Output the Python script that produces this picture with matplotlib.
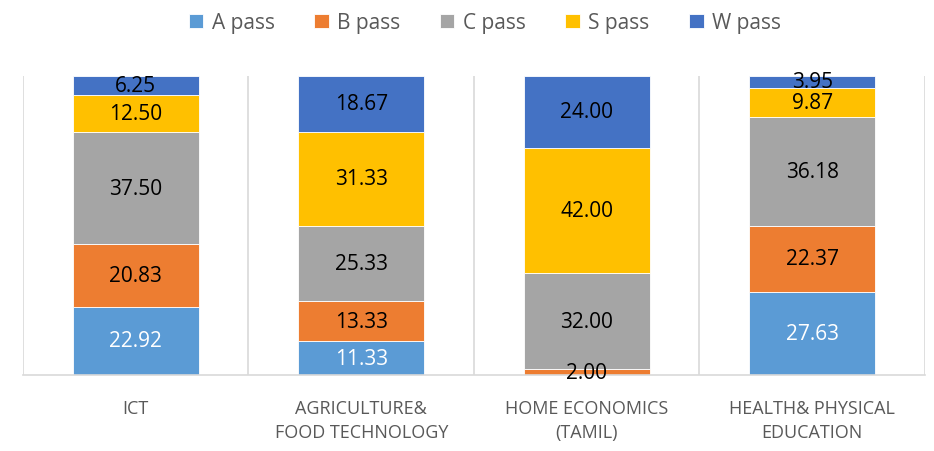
import matplotlib
matplotlib.use("Agg")
import matplotlib.pyplot as plt
import numpy as np

categories = ["ICT", "AGRICULTURE&\nFOOD TECHNOLOGY", "HOME ECONOMICS\n(TAMIL)", "HEALTH& PHYSICAL\nEDUCATION"]
series_names = ["A pass", "B pass", "C pass", "S pass", "W pass"]
a_pass = [22.92, 11.33, 0.00, 27.63]
b_pass = [20.83, 13.33, 2.00, 22.37]
c_pass = [37.50, 25.33, 32.00, 36.18]
s_pass = [12.50, 31.33, 42.00, 9.87]
w_pass = [6.25, 18.67, 24.00, 3.95]
colors = ["#5B9BD5", "#ED7D31", "#A5A5A5", "#FFC000", "#4472C4"]
label_colors = ["white", "black", "black", "black", "black"]

plt.rcParams['font.family'] = ['Open Sans', 'DejaVu Sans']

fig = plt.figure(figsize=(9.34, 4.52), dpi=100)
ax = fig.add_axes([0.0246, 0.168, 0.9657, 0.6616])

x = np.arange(len(categories))
bottom = np.zeros(len(categories))
handles = []
for vals, name, col, lc in zip([a_pass, b_pass, c_pass, s_pass, w_pass], series_names, colors, label_colors):
    v = np.array(vals)
    bars = ax.bar(x, v, width=0.56, bottom=bottom, color=col, edgecolor="white", linewidth=0.6, label=name)
    handles.append(bars)
    for xi, bi, vi in zip(x, bottom, v):
        if vi > 0:
            ax.text(xi, bi + vi / 2, f"{vi:.2f}", ha="center", va="center", color=lc, fontsize=15)
    bottom += v

ax.set_xlim(-0.5, len(categories) - 0.5)
ax.set_ylim(0, 100)
ax.set_yticks([])
ax.set_xticks(x)
ax.set_xticklabels(categories, fontsize=13, color="#595959", linespacing=1.45)
ax.tick_params(axis="x", length=0, pad=17)
for b in np.arange(-0.5, len(categories), 1.0):
    ax.axvline(b, color="#D9D9D9", linewidth=1.2, zorder=0)
for s in ["top", "left", "right"]:
    ax.spines[s].set_visible(False)
ax.spines["bottom"].set_color("#D9D9D9")
ax.spines["bottom"].set_linewidth(1.2)

fig.legend(handles=handles, labels=series_names, loc="center", bbox_to_anchor=(0.519, 0.947), ncol=5,
           frameon=False, fontsize=15, handlelength=0.7, handleheight=0.7, handletextpad=0.4,
           columnspacing=1.9, labelcolor="#595959")

fig.savefig("out.png", dpi=100)
